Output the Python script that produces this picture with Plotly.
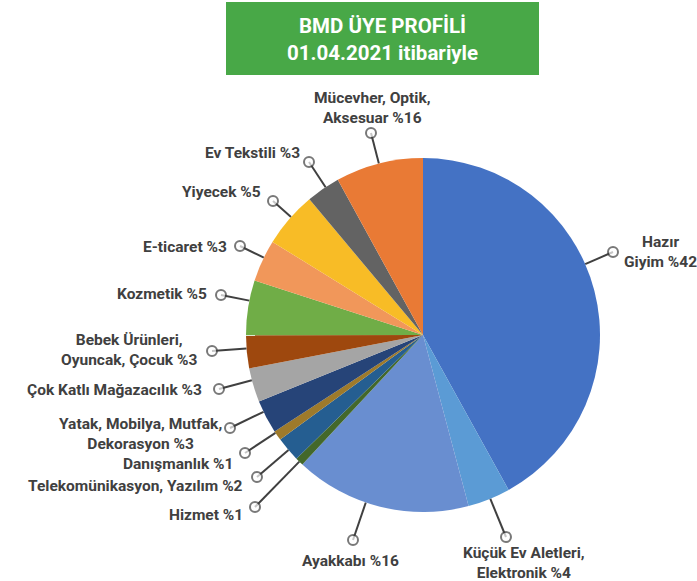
import math
import plotly.graph_objects as go

# slice order clockwise from 12 o'clock
sectors = [
    "Hazır Giyim", "Küçük Ev Aletleri, Elektronik", "Ayakkabı", "Hizmet",
    "Telekomünikasyon, Yazılım", "Danışmanlık", "Yatak, Mobilya, Mutfak, Dekorasyon",
    "Çok Katlı Mağazacılık", "Bebek Ürünleri, Oyuncak, Çocuk", "Kozmetik",
    "E-ticaret", "Yiyecek", "Ev Tekstili", "Mücevher, Optik, Aksesuar",
]
# slice sizes as drawn in the picture
shares = [42.0, 3.9, 16.1, 0.75, 2.25, 0.9, 3.05, 3.1, 3.0, 5.0, 3.85, 5.1, 3.1, 8.0]
# label texts as printed
labels = [
    "Hazır<br>Giyim %42", "Küçük Ev Aletleri,<br>Elektronik %4", "Ayakkabı %16",
    "Hizmet %1", "Telekomünikasyon, Yazılım %2", "Danışmanlık %1",
    "Yatak, Mobilya, Mutfak,<br>Dekorasyon %3", "Çok Katlı Mağazacılık %3",
    "Bebek Ürünleri,<br>Oyuncak, Çocuk %3", "Kozmetik %5", "E-ticaret %3",
    "Yiyecek %5", "Ev Tekstili %3", "Mücevher, Optik,<br>Aksesuar %16",
]
colors = [
    "#4472C4", "#5B9BD5", "#698ED0", "#43682B", "#255E91", "#9E7A2B", "#264478",
    "#A5A5A5", "#9E480E", "#70AD47", "#F1975A", "#F8BC26", "#636363", "#E97A35",
]

W, H = 697, 581
CX, CY, R = 423, 335, 177

# leader dot position, label position, anchor
dots = [(613, 252), (506, 537), (353, 540), (255, 507), (257, 477), (245, 453),
        (230, 428), (219, 389), (212, 351), (221, 295), (240, 246), (273, 201),
        (309, 162), (371, 133)]
text_pos = [(660, 252, "center"), (524, 563, "center"), (350, 561, "center"),
            (245, 515, "right"), (245, 486, "right"), (235, 464, "right"),
            (140, 434, "center"), (204, 390, "right"), (129, 350, "center"),
            (209, 294, "right"), (229, 247, "right"), (263, 192, "right"),
            (302, 153, "right"), (372, 108, "center")]

fig = go.Figure()

fig.add_trace(go.Pie(
    labels=sectors, values=shares, sort=False, direction="clockwise", rotation=0,
    marker=dict(colors=colors, line=dict(width=0)),
    textinfo="none", hoverinfo="label+percent", showlegend=False,
    domain=dict(x=[(CX - R) / W, (CX + R) / W],
                y=[(H - CY - R) / H, (H - CY + R) / H]),
))

total = sum(shares)
start = 0.0
for i, v in enumerate(shares):
    a0 = start
    a1 = start + v / total * 360
    start = a1
    dx, dy = dots[i]
    ang = math.degrees(math.atan2(dx - CX, CY - dy)) % 360
    pad = min(0.4, (a1 - a0) / 2)
    ang = min(max(ang, a0 + pad), a1 - pad)
    ex = CX + R * math.sin(math.radians(ang))
    ey = CY - R * math.cos(math.radians(ang))
    fig.add_trace(go.Scatter(
        x=[ex, dx], y=[ey, dy], mode="lines+markers",
        line=dict(color="#404040", width=2),
        marker=dict(size=[0, 10], color="white", symbol="circle",
                    line=dict(color="#404040", width=2)),
        hoverinfo="skip", showlegend=False,
    ))
    tx, ty, anc = text_pos[i]
    fig.add_annotation(x=tx, y=ty, xref="x", yref="y", text="<b>" + labels[i] + "</b>",
                       showarrow=False, xanchor=anc, yanchor="middle", align="center",
                       font=dict(family="Roboto", size=15.5, color="#404040"))

fig.add_shape(type="rect", xref="x", yref="y", x0=226, x1=539, y0=2, y1=75,
              fillcolor="#48A847", line=dict(width=0), layer="below")
fig.add_annotation(x=382.5, y=39, xref="x", yref="y",
                   text="<b>BMD ÜYE PROFİLİ<br>01.04.2021 itibariyle</b>",
                   showarrow=False, xanchor="center", yanchor="middle", align="center",
                   font=dict(family="Roboto", size=20.5, color="white"))

fig.update_layout(
    width=W, height=H, margin=dict(l=0, r=0, t=0, b=0),
    paper_bgcolor="white", plot_bgcolor="rgba(0,0,0,0)",
    xaxis=dict(range=[0, W], visible=False, fixedrange=True),
    yaxis=dict(range=[H, 0], visible=False, fixedrange=True),
)

fig.write_html("out.html", config={"displayModeBar": False},
               post_script="document.body.style.margin='0';")
